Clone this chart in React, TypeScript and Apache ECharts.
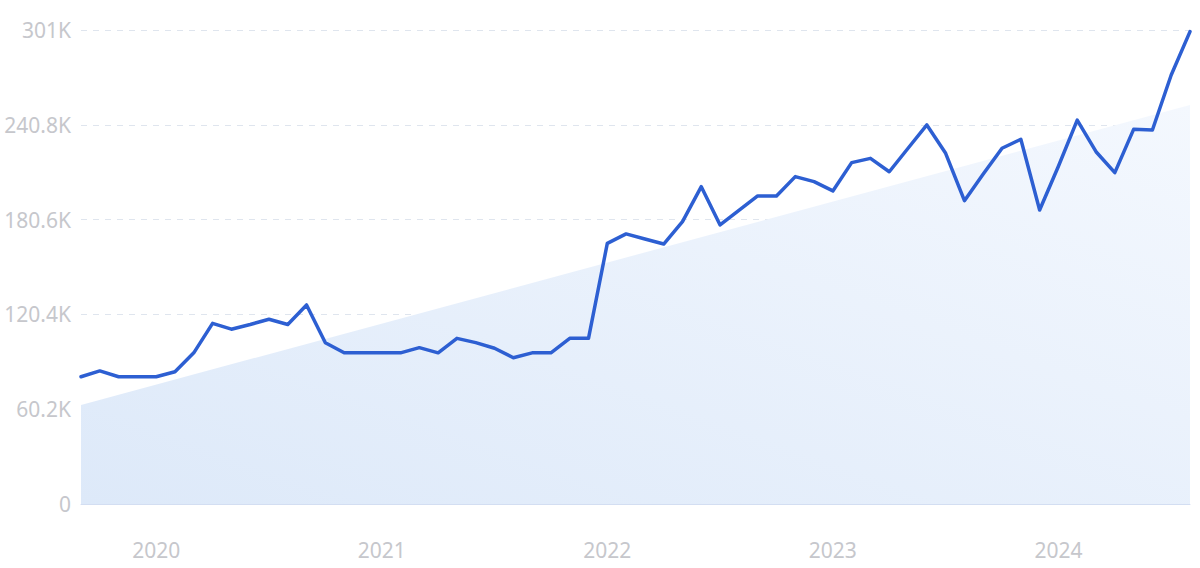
import React, { useEffect, useRef } from "react";
import * as echarts from "echarts";

const months: string[] = [
  "2019-09", "2019-10", "2019-11", "2019-12",
  "2020-01", "2020-02", "2020-03", "2020-04", "2020-05", "2020-06", "2020-07", "2020-08", "2020-09", "2020-10", "2020-11", "2020-12",
  "2021-01", "2021-02", "2021-03", "2021-04", "2021-05", "2021-06", "2021-07", "2021-08", "2021-09", "2021-10", "2021-11", "2021-12",
  "2022-01", "2022-02", "2022-03", "2022-04", "2022-05", "2022-06", "2022-07", "2022-08", "2022-09", "2022-10", "2022-11", "2022-12",
  "2023-01", "2023-02", "2023-03", "2023-04", "2023-05", "2023-06", "2023-07", "2023-08", "2023-09", "2023-10", "2023-11", "2023-12",
  "2024-01", "2024-02", "2024-03", "2024-04", "2024-05", "2024-06", "2024-07", "2024-08",
];

const searches: number[] = [
  80800, 84500, 80800, 80800,
  80800, 84000, 96000, 114700, 111000, 114000, 117300, 114000, 126400, 102400, 96000, 96000,
  96000, 96000, 99300, 96000, 105200, 102500, 98900, 92900, 96000, 96000, 105200, 105200,
  165500, 171500, 168300, 165100, 179300, 201500, 177200, 186500, 195600, 195600, 207900, 204700,
  198800, 216800, 219500, 211000, 225900, 240700, 222700, 192600, 209500, 225900, 231600, 186700,
  214500, 243800, 223700, 210400, 237900, 237500, 272400, 300000,
];

const trendStart = 62900;
const trendEnd = 253400;

const yTicks: number[] = [0, 60200, 120400, 180600, 240800, 301000];

export default function App() {
  const ref = useRef<HTMLDivElement>(null);

  useEffect(() => {
    document.body.style.margin = "0";
    if (!ref.current) return;
    const chart = echarts.init(ref.current, undefined, { renderer: "svg" });
    const labelColor = "#c6c7cc";
    chart.setOption({
      animation: false,
      grid: { left: 81, right: 10, top: 30, bottom: 64, containLabel: false },
      xAxis: {
        type: "category",
        data: months,
        boundaryGap: false,
        axisLine: { show: true, lineStyle: { color: "#d3def2", width: 1 } },
        axisTick: { show: false },
        splitLine: { show: false },
        axisLabel: {
          interval: (i: number, v: string) => v.endsWith("-01"),
          formatter: (v: string) => v.slice(0, 4),
          color: labelColor,
          fontSize: 21,
          fontFamily: "Noto Sans",
          margin: 35,
        },
      },
      yAxis: {
        type: "value",
        min: yTicks[0],
        max: yTicks[yTicks.length - 1],
        interval: yTicks[1] - yTicks[0],
        axisLine: { show: false },
        axisTick: { show: false },
        splitLine: {
          show: true,
          lineStyle: { color: "#dfe5ee", type: [6, 6], width: 1 },
        },
        axisLabel: {
          color: labelColor,
          fontSize: 21,
          fontFamily: "Noto Sans",
          margin: 10,
          formatter: (v: number) => (v === 0 ? "0" : `${Math.round(v / 100) / 10}K`),
        },
      },
      series: [
        {
          type: "line",
          name: "trend",
          data: [
            [months[0], trendStart],
            [months[months.length - 1], trendEnd],
          ],
          symbol: "none",
          lineStyle: { width: 0, opacity: 0 },
          areaStyle: {
            opacity: 1,
            color: new echarts.graphic.LinearGradient(0, 1, 1, 0, [
              { offset: 0, color: "#dde9f9" },
              { offset: 1, color: "#f4f8fe" },
            ]),
          },
          z: 1,
          silent: true,
        },
        {
          type: "line",
          name: "searches",
          data: searches,
          symbol: "none",
          lineStyle: { color: "#2d5fd2", width: 3.5, join: "round", cap: "round" },
          z: 3,
        },
      ],
    });
    return () => chart.dispose();
  }, []);

  return <div ref={ref} style={{ width: 1200, height: 568 }} />;
}
